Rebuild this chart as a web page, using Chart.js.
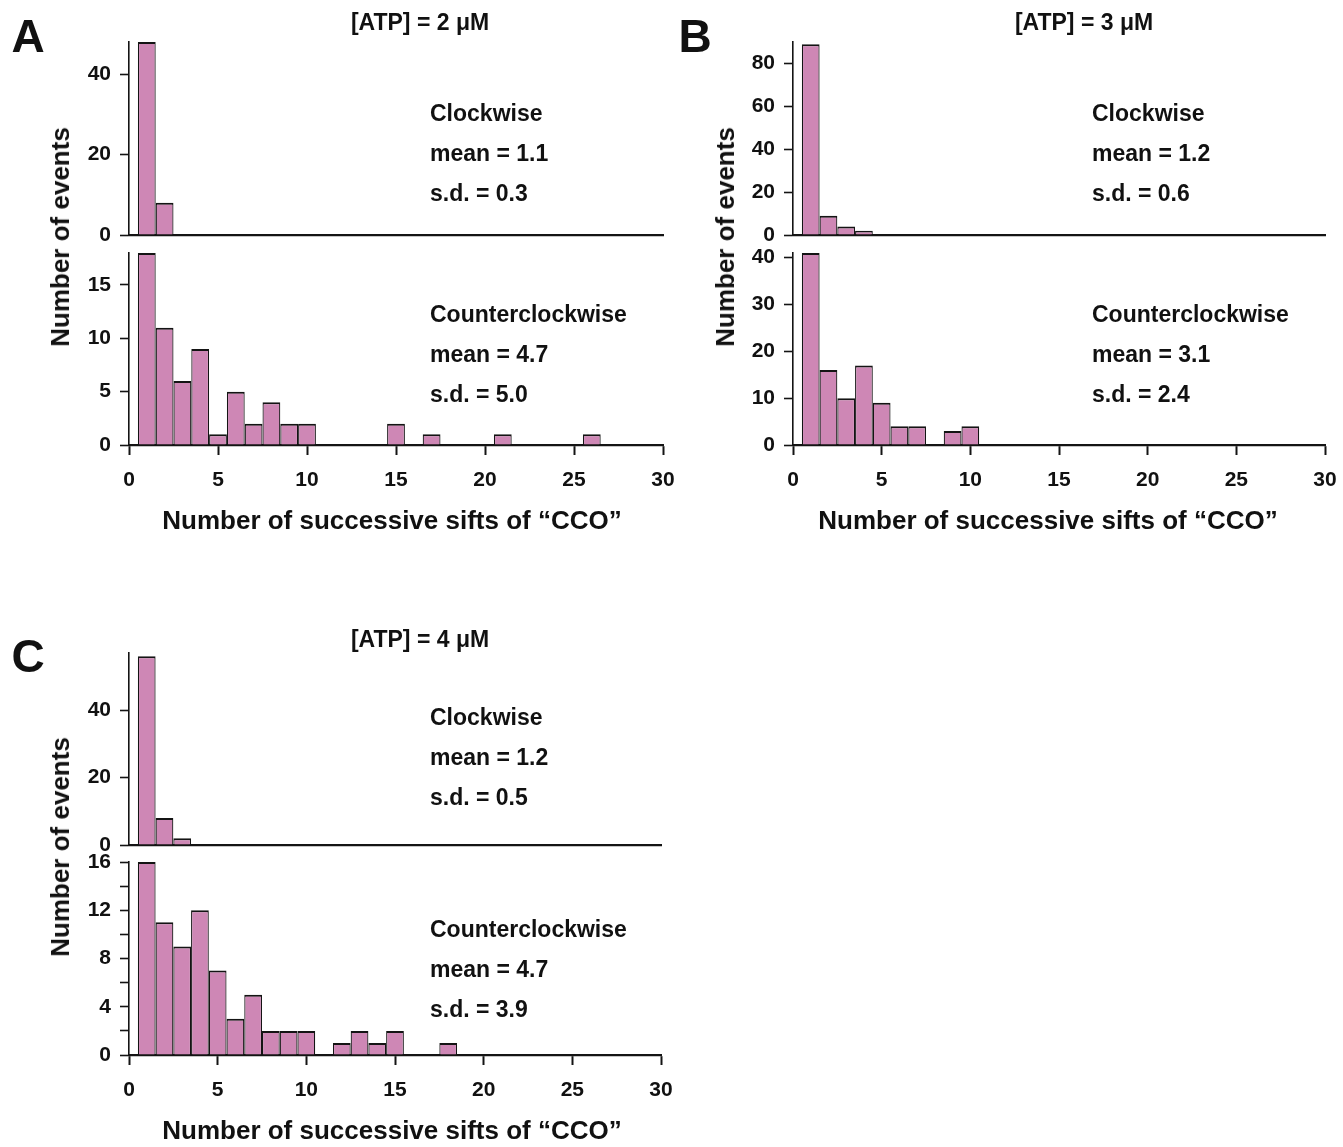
<!DOCTYPE html>
<html>
<head>
<meta charset="utf-8">
<script src="https://cdn.jsdelivr.net/npm/chart.js@4.4.0/dist/chart.umd.min.js"></script>
<style>
  html, body { margin:0; padding:0; background:#fff; }
  body { width:1343px; height:1147px; position:relative; overflow:hidden;
         font-family:"Liberation Sans", Arial, Helvetica, sans-serif; font-weight:bold; color:#111; }
  .box { position:absolute; }
  .t { position:absolute; white-space:nowrap; line-height:1; }
  .c { transform:translate(-50%,-50%); }
  .l { transform:translate(0,-50%); }
  .rot { transform:translate(-50%,-50%) rotate(-90deg); }
</style>
</head>
<body>
<script>
// ---------------- DATA ----------------
const bins = [1,2,3,4,5,6,7,8,9,10,11,12,13,14,15,16,17,18,19,20,21,22,23,24,25,26,27,28,29,30];
const xTickValues = [0,5,10,15,20,25,30];

// Panel A: [ATP] = 2 µM
const countsA_cw  = [48,8];
const countsA_ccw = [18,11,6,9,1,5,2,4,2,2,0,0,0,0,2,0,1,0,0,0,1,0,0,0,0,1];
// Panel B: [ATP] = 3 µM
const countsB_cw  = [89,9,4,2];
const countsB_ccw = [41,16,10,17,9,4,4,0,3,4];
// Panel C: [ATP] = 4 µM
const countsC_cw  = [56,8,2];
const countsC_ccw = [16,11,9,12,7,3,5,2,2,2,0,1,2,1,2,0,0,1];

const yTicksA_cw  = [0,20,40];
const yTicksA_ccw = [0,5,10,15];
const yTicksB_cw  = [0,20,40,60,80];
const yTicksB_ccw = [0,10,20,30,40];
const yTicksC_cw  = [0,20,40];
const yTicksC_ccw = [0,4,8,12,16];

const panelTitles = ["[ATP] = 2 μM", "[ATP] = 3 μM", "[ATP] = 4 μM"];
const statsCW  = [["mean = 1.1","s.d. = 0.3"],["mean = 1.2","s.d. = 0.6"],["mean = 1.2","s.d. = 0.5"]];
const statsCCW = [["mean = 4.7","s.d. = 5.0"],["mean = 3.1","s.d. = 2.4"],["mean = 4.7","s.d. = 3.9"]];
const yTitle = "Number of events";
const xTitle = "Number of successive sifts of “CCO”";

// ---------------- LAYOUT ----------------
const FILL = '#CE87B5';
const EDGE = '#141414';
const TICKFONT = {family:'"Liberation Sans", Arial, sans-serif', size:21, weight:'bold'};
const YW = 90, PT = 16, PR = 22;

function addText(txt, x, y, size, cls) {
  const d = document.createElement('div');
  d.className = 't ' + cls;
  d.style.left = x + 'px'; d.style.top = y + 'px'; d.style.fontSize = size + 'px';
  d.textContent = txt;
  document.body.appendChild(d);
}

function makeHist(area, counts, yMax, yTicks, isBottom, minorStep) {
  const XH = isBottom ? 70 : 16;
  const div = document.createElement('div');
  div.className = 'box';
  div.style.left = (area.l - YW) + 'px';
  div.style.top = (area.t - PT) + 'px';
  div.style.width = (area.r - area.l + YW + PR) + 'px';
  div.style.height = (area.b - area.t + PT + XH) + 'px';
  const cv = document.createElement('canvas');
  div.appendChild(cv);
  document.body.appendChild(div);

  const pts = counts.map((c, i) => ({x: bins[i], y: c}));
  const step = minorStep || (yTicks[1] - yTicks[0]);
  new Chart(cv, {
    type: 'bar',
    data: { datasets: [{
      data: pts,
      backgroundColor: FILL,
      borderColor: EDGE,
      borderWidth: {top:2, left:1.2, right:1.2, bottom:0},
      borderSkipped: false,
      barPercentage: 1, categoryPercentage: 1,
      inflateAmount: 0
    }]},
    options: {
      responsive: true, maintainAspectRatio: false, animation: false,
      layout: { padding: {top: PT, right: PR, left: 0, bottom: 0} },
      plugins: { legend: {display:false}, tooltip: {enabled:false} },
      scales: {
        x: {
          type: 'linear', min: 0, max: 30, offset: false,
          afterFit: s => { s.height = XH; s.paddingLeft = 0; s.paddingRight = 0; },
          afterBuildTicks: s => { s.ticks = xTickValues.map(v => ({value:v})); },
          ticks: { display: isBottom, font: TICKFONT, color: '#111', padding: 13, maxRotation: 0, autoSkip: false },
          grid: { display: isBottom, offset: false, drawOnChartArea: false, drawTicks: true, tickLength: 10, tickColor: EDGE, tickWidth: 2 },
          border: { display: true, color: EDGE, width: 2.2 }
        },
        y: {
          min: 0, max: yMax,
          afterFit: s => { s.width = YW; s.paddingTop = 0; s.paddingBottom = 0; },
          afterBuildTicks: s => {
            const arr = [];
            for (let v = 0; v <= yMax + 1e-9; v += step) arr.push({value: v});
            s.ticks = arr;
          },
          ticks: {
            font: TICKFONT, color: '#111', padding: 9, autoSkip: false,
            callback: v => (yTicks.indexOf(v) >= 0 ? String(v) : '')
          },
          grid: { display: true, drawOnChartArea: false, drawTicks: true, tickLength: 9, tickColor: EDGE, tickWidth: 1.6 },
          border: { display: true, color: EDGE, width: 1.6 }
        }
      }
    }
  });
}

// Panel A
makeHist({l:129, r:663, t:42,  b:235},  countsA_cw,  48, yTicksA_cw,  false);
makeHist({l:129, r:663, t:253, b:445},  countsA_ccw, 18, yTicksA_ccw, true);
// Panel B
makeHist({l:793, r:1325, t:42,  b:235}, countsB_cw,  90, yTicksB_cw,  false);
makeHist({l:793, r:1325, t:253, b:445}, countsB_ccw, 41, yTicksB_ccw, true);
// Panel C
makeHist({l:129, r:661, t:653, b:845},  countsC_cw,  57, yTicksC_cw,  false);
makeHist({l:129, r:661, t:862, b:1055}, countsC_ccw, 16, yTicksC_ccw, true, 2);

// Text
const panels = [
  {letter:'A', lx:28,  ly:36,  tx:420,  ty:22,  ax:430,  cwY:113, ccwY:314, yx:60,  yy:237, xx:392,  xy:520},
  {letter:'B', lx:695, ly:36,  tx:1084, ty:22,  ax:1092, cwY:113, ccwY:314, yx:725, yy:237, xx:1048, xy:520},
  {letter:'C', lx:28,  ly:656, tx:420,  ty:639, ax:430,  cwY:717, ccwY:929, yx:60,  yy:847, xx:392,  xy:1130}
];
panels.forEach((p, i) => {
  addText(p.letter, p.lx, p.ly, 46, 'c');
  addText(panelTitles[i], p.tx, p.ty, 23, 'c');
  addText('Clockwise', p.ax, p.cwY, 23, 'l');
  addText(statsCW[i][0], p.ax, p.cwY + 40, 23, 'l');
  addText(statsCW[i][1], p.ax, p.cwY + 80, 23, 'l');
  addText('Counterclockwise', p.ax, p.ccwY, 23, 'l');
  addText(statsCCW[i][0], p.ax, p.ccwY + 40, 23, 'l');
  addText(statsCCW[i][1], p.ax, p.ccwY + 80, 23, 'l');
  addText(yTitle, p.yx, p.yy, 26, 'rot');
  addText(xTitle, p.xx, p.xy, 26, 'c');
});
</script>
</body>
</html>
